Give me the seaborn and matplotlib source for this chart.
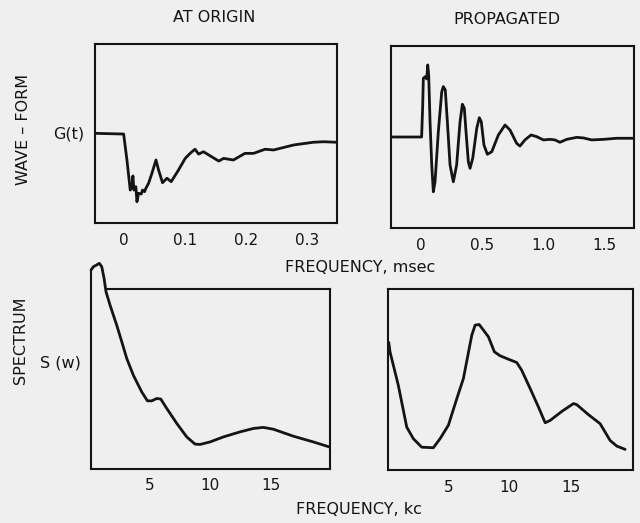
import matplotlib
matplotlib.use("Agg")
import matplotlib.pyplot as plt
import seaborn as sns
import pandas as pd

# ---------------- data ----------------
# Wave-form at origin (time in msec, amplitude in arbitrary units 0..10)
t_origin = [-0.048, -0.001, 0.0044, 0.0098, 0.0126, 0.0142, 0.0158, 0.019, 0.0208,
            0.0235, 0.0279, 0.030, 0.0333, 0.0355, 0.0399, 0.0454, 0.052, 0.0563,
            0.0628, 0.070, 0.077, 0.089, 0.100, 0.108, 0.116, 0.122, 0.130, 0.155,
            0.163, 0.179, 0.198, 0.212, 0.231, 0.245, 0.278, 0.310, 0.327, 0.349]
g_origin = [5.01, 4.97, 3.52, 1.84, 2.03, 2.63, 1.84, 2.03, 1.19,
            1.66, 1.62, 1.84, 1.75, 1.94, 2.22, 2.78, 3.52, 2.96,
            2.25, 2.50, 2.31, 2.96, 3.61, 3.89, 4.12, 3.85, 3.98, 3.46,
            3.61, 3.52, 3.89, 3.89, 4.12, 4.08, 4.36, 4.51, 4.54, 4.51]

# Wave-form propagated
t_prop = [-0.246, 0.005, 0.014, 0.019, 0.033, 0.047, 0.055, 0.063, 0.074, 0.088,
          0.101, 0.115, 0.142, 0.170, 0.183, 0.199, 0.216, 0.238, 0.265, 0.292,
          0.320, 0.339, 0.355, 0.369, 0.388, 0.402, 0.424, 0.457, 0.478, 0.494,
          0.516, 0.544, 0.580, 0.634, 0.689, 0.730, 0.784, 0.811, 0.852, 0.902,
          0.948, 1.003, 1.057, 1.098, 1.139, 1.194, 1.276, 1.330, 1.399, 1.494,
          1.604, 1.746]
g_prop = [5.00, 5.00, 6.76, 8.22, 8.31, 8.19, 8.96, 8.41, 5.84, 3.46,
          1.99, 2.54, 5.29, 7.49, 7.77, 7.58, 5.84, 3.46, 2.54, 3.46,
          5.84, 6.80, 6.58, 5.29, 3.64, 3.28, 3.83, 5.48, 6.06, 5.84,
          4.56, 4.05, 4.19, 5.11, 5.66, 5.38, 4.65, 4.50, 4.84, 5.11,
          5.02, 4.84, 4.87, 4.84, 4.71, 4.87, 4.98, 4.95, 4.84, 4.87,
          4.93, 4.93]

# Spectrum at origin (frequency in kc)
f_origin = [0.20, 0.39, 0.66, 0.88, 1.08, 1.27, 1.43, 1.76, 2.31, 2.73, 3.14, 3.68,
            4.37, 4.84, 5.20, 5.61, 5.94, 6.43, 7.26, 8.08, 8.76, 9.18, 10.0, 11.1,
            12.47, 13.57, 14.39, 15.21, 16.86, 18.51, 19.83]
s_origin = [11.06, 11.24, 11.34, 11.43, 11.24, 10.6, 9.85, 9.11, 7.99, 7.06, 6.13, 5.20,
            4.27, 3.77, 3.77, 3.90, 3.87, 3.35, 2.51, 1.76, 1.36, 1.34, 1.48, 1.76,
            2.04, 2.23, 2.29, 2.19, 1.80, 1.48, 1.20]

# Spectrum propagated
f_prop = [0.12, 0.22, 0.90, 1.59, 2.13, 2.82, 3.77, 4.32, 5.00, 5.69, 6.23, 6.92,
          7.19, 7.52, 7.87, 8.28, 8.77, 9.24, 9.92, 10.6, 11.01, 11.7, 12.38, 12.93,
          13.34, 14.3, 15.25, 15.52, 16.47, 17.43, 18.25, 18.8, 19.48]
s_prop = [7.05, 6.53, 4.68, 2.37, 1.73, 1.26, 1.23, 1.73, 2.47, 3.94, 5.05, 7.45,
          8.00, 8.04, 7.73, 7.36, 6.53, 6.31, 6.12, 5.94, 5.51, 4.50, 3.48, 2.61,
          2.74, 3.24, 3.67, 3.61, 3.06, 2.56, 1.63, 1.32, 1.14]

# ticks
ticks_origin_t = [0, 0.1, 0.2, 0.3]
labels_origin_t = ["0", "0.1", "0.2", "0.3"]
minor_origin_t = [0.05, 0.15, 0.25]
ticks_prop_t = [0, 0.5, 1.0, 1.5]
labels_prop_t = ["0", "0.5", "1.0", "1.5"]
minor_prop_t = [0.25, 0.75, 1.25]
ticks_freq = [5, 10, 15]
labels_freq = ["5", "10", "15"]

# ---------------- style ----------------
sns.set_style("white")
plt.rcParams["font.family"] = ["DejaVu Sans"]
BG = "#efefef"
INK = "#141414"

fig = plt.figure(figsize=(6.4, 5.23), dpi=100, facecolor=BG)
W, H = 640.0, 523.0


def make_ax(left, right, top, bottom):
    ax = fig.add_axes([left / W, 1 - bottom / H, (right - left) / W, (bottom - top) / H])
    ax.set_facecolor(BG)
    for s in ax.spines.values():
        s.set_color(INK)
        s.set_linewidth(1.5)
    ax.set_yticks([])
    ax.set_ylim(0, 10)
    ax.tick_params(axis="x", which="both", direction="in", length=5, width=1.3,
                   pad=7, labelsize=11, colors=INK)
    return ax


def draw(ax, x, y):
    df = pd.DataFrame({"x": x, "y": y})
    sns.lineplot(data=df, x="x", y="y", ax=ax, color=INK, lw=2.0,
                 estimator=None, sort=False)
    ax.set_xlabel("")
    ax.set_ylabel("")
    return ax.lines[-1]


ax1 = make_ax(95, 337, 44, 223)
draw(ax1, t_origin, g_origin)
ax1.set_xlim(-0.048, 0.349)
ax1.set_xticks(ticks_origin_t)
ax1.set_xticklabels(labels_origin_t)
ax1.set_xticks(minor_origin_t, minor=True)

ax2 = make_ax(391, 634, 46, 228)
draw(ax2, t_prop, g_prop)
ax2.set_xlim(-0.246, 1.746)
ax2.set_xticks(ticks_prop_t)
ax2.set_xticklabels(labels_prop_t)
ax2.set_xticks(minor_prop_t, minor=True)

ax3 = make_ax(90.7, 330, 289, 468.5)
ln = draw(ax3, f_origin, s_origin)
ln.set_clip_on(False)
ax3.set_xlim(0.17, 19.88)
ax3.set_xticks(ticks_freq)
ax3.set_xticklabels(labels_freq)
ax3.spines["top"].set_bounds(1.45, 19.88)
ax3.spines["left"].set_bounds(0, s_origin[0])

ax4 = make_ax(388.3, 632.7, 289, 470)
draw(ax4, f_prop, s_prop)
ax4.set_xlim(0.08, 20.1)
ax4.set_xticks(ticks_freq)
ax4.set_xticklabels(labels_freq)

# ---------------- texts ----------------
def ftext(x, y, s, **kw):
    fig.text(x / W, 1 - y / H, s, color=INK, ha="center", va="center", **kw)

ftext(214, 17, "AT ORIGIN", fontsize=11.5)
ftext(507, 19, "PROPAGATED", fontsize=11.5)
ftext(24, 129, "WAVE – FORM", fontsize=11.5, rotation=90)
ftext(69, 134, "G(t)", fontsize=11.5)
ftext(21, 340, "SPECTRUM", fontsize=11.5, rotation=90)
ftext(60, 363, "S (w)", fontsize=11.5)
ftext(360, 267, "FREQUENCY, msec", fontsize=11.5)
ftext(359, 510, "FREQUENCY, kc", fontsize=11.5)

fig.savefig("out.png", dpi=100, facecolor=BG)
